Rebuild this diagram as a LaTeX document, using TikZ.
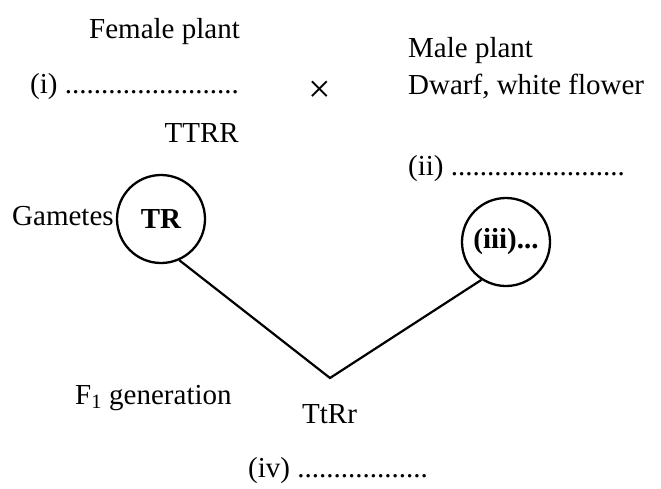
\documentclass[tikz,border=0pt]{standalone}
\usepackage{fontspec}
\setmainfont{Liberation Serif}
\begin{document}
\begin{tikzpicture}[x=1pt,y=-1pt,
  lbl/.style={inner sep=0pt, font=\fontsize{29}{34}\selectfont},
  gcircle/.style={circle, draw, line width=2.3pt, minimum size=88pt, inner sep=0pt, font=\fontsize{29}{34}\selectfont\bfseries},
  link/.style={line width=2.2pt}]
\useasboundingbox (0,0) rectangle (661,488);
% left parent
\node[lbl, anchor=base west] (fem) at (89,38) {Female plant};
\node[lbl, anchor=base west] (ione) at (30,93) {(i) ........................};
\node[lbl, anchor=base east] (ttrr) at (239,142) {TTRR};
% cross
\node[inner sep=0pt, font=\fontsize{40}{46}\selectfont] (cross) at (320,92) {×};
% right parent
\node[lbl, anchor=base west] (male) at (408,57) {Male plant};
\node[lbl, anchor=base west] (dwarf) at (408,94) {Dwarf, white flower};
\node[lbl, anchor=base west] (itwo) at (408,175) {(ii) ........................};
% gametes
\node[lbl, anchor=base west] (gam) at (12,225) {Gametes};
\node[gcircle] (tr) at (161,219) {TR};
\node[gcircle] (iii) at (506,242) {(iii)...};
% offspring
\coordinate (v) at (330,378);
\draw[link] (tr.-66) -- (v) -- (iii.-123);
\node[lbl, anchor=base west] (fone) at (75,404) {F\textsubscript{1} generation};
\node[lbl, anchor=base west] (ttrr2) at (302,423) {TtRr};
\node[lbl, anchor=base west] (ifour) at (248,477) {(iv) ..................};
\end{tikzpicture}
\end{document}
